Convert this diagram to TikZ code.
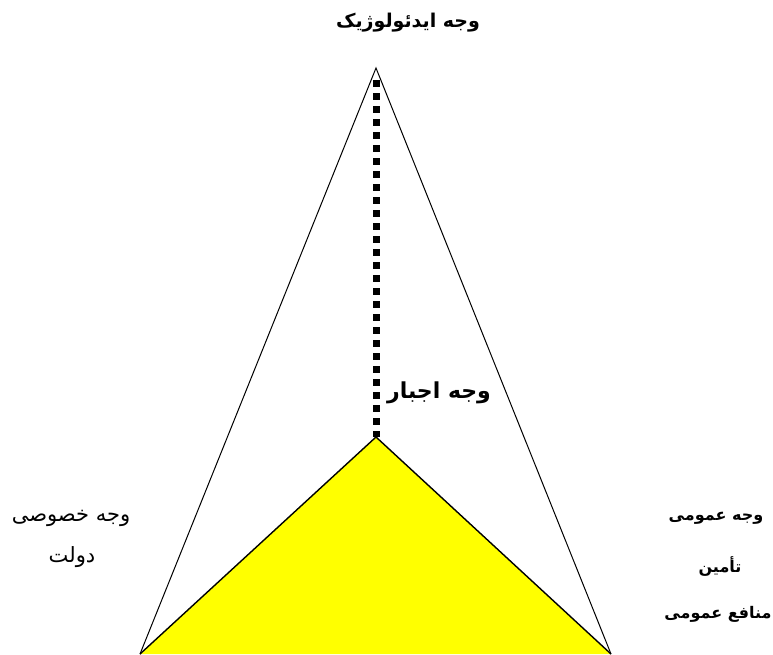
\documentclass[tikz,border=0pt]{standalone}
\usepackage{fontspec}
\usetikzlibrary{positioning}
\TeXXeTstate=1
\newfontfamily\farsifont[Script=Arabic]{DejaVu Sans}
\newcommand{\fa}[1]{\beginR #1\endR}
\definecolor{coreyellow}{RGB}{255,255,0}

\begin{document}
\begin{tikzpicture}[x=1pt, y=-1pt,
  facelabel/.style={font=\farsifont\fontsize{16}{18}\selectfont\bfseries, inner sep=0pt},
  plainlabel/.style={font=\farsifont\fontsize{21}{23}\selectfont, inner sep=0pt}]
  \useasboundingbox (0,0) rectangle (773,654);

  % Corners
  \coordinate (apex) at (376,68);
  \coordinate (baseL) at (140,654);
  \coordinate (baseR) at (611,654);
  \coordinate (core) at (376,437);

  % Inner yellow triangle
  \fill[coreyellow] (baseL) -- (core) -- (baseR) -- cycle;
  \draw[line width=1.4pt] (baseL) -- (core) -- (baseR);

  % Outer triangle
  \draw[line width=1pt] (baseL) -- (apex) -- (baseR);

  % Dotted axis
  \draw[line width=7pt, dash pattern=on 6.5pt off 6.5pt] ([yshift=-12pt]apex) -- (core);

  % Labels
  \node[facelabel, font=\farsifont\fontsize{19}{21}\selectfont\bfseries] (ideo) at (408,23) {\fa{وجه ایدئولوژیک}};
  \node[facelabel, font=\farsifont\fontsize{22}{24}\selectfont\bfseries] (force) at (439,393) {\fa{وجه اجبار}};
  \node[plainlabel] (private) at (71,518) {\fa{وجه خصوصی}};
  \node[plainlabel] (state) at (72,557) {\fa{دولت}};
  \node[facelabel] (public) at (716,518) {\fa{وجه عمومی}};
  \node[facelabel] (supply) at (720,566) {\fa{تأمین}};
  \node[facelabel] (benefit) at (718,614) {\fa{منافع عمومی}};
\end{tikzpicture}
\end{document}
